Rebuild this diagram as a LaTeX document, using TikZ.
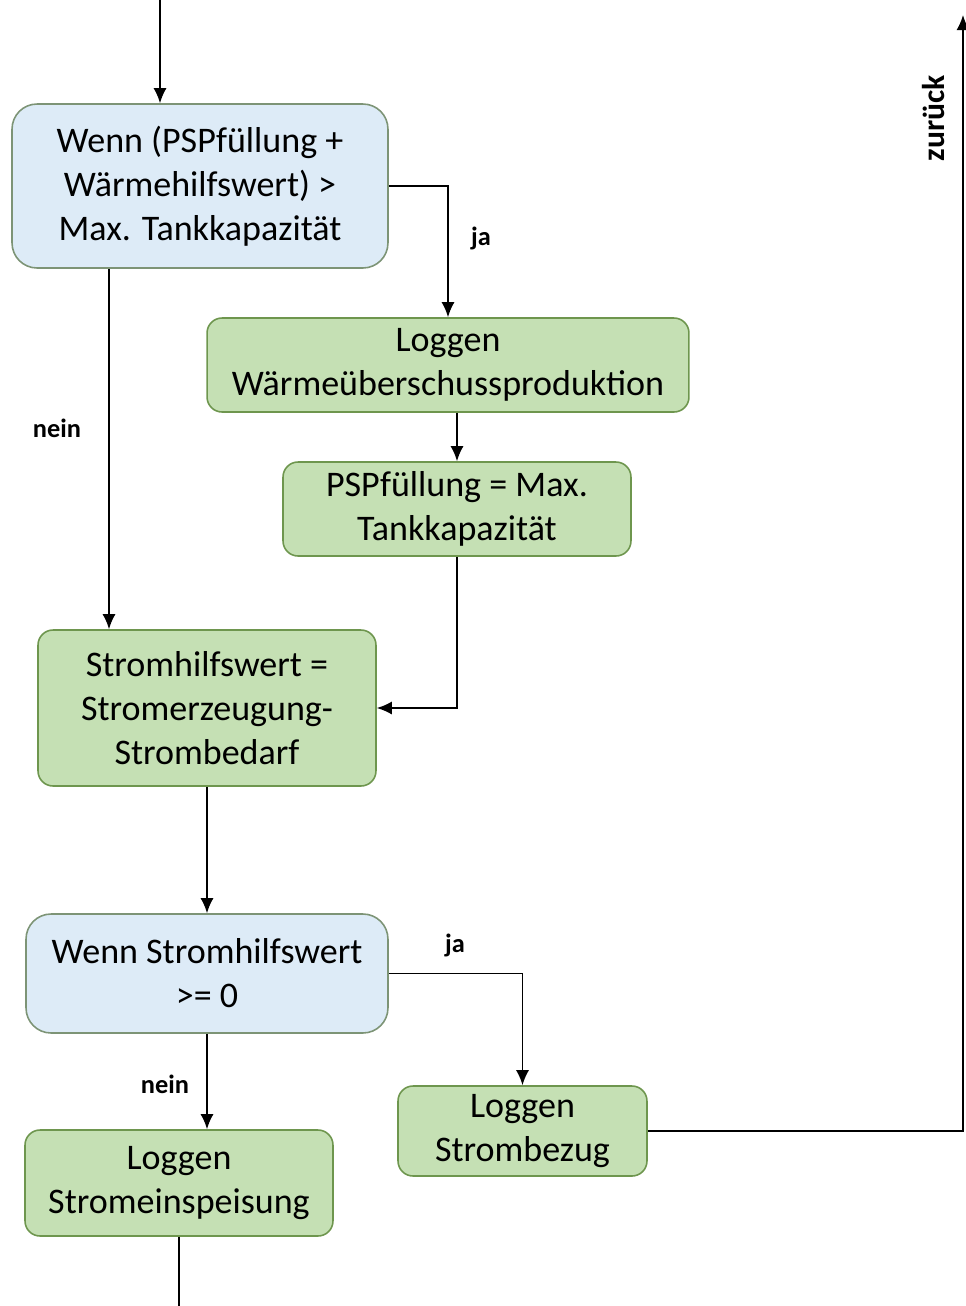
\documentclass[tikz,border=0pt]{standalone}
\usepackage{fontspec}
\setmainfont{Carlito}
\usetikzlibrary{arrows.meta}
\definecolor{fillblau}{RGB}{221,235,247}
\definecolor{randblau}{RGB}{125,148,118}
\definecolor{fillgruen}{RGB}{197,224,180}
\definecolor{randgruen}{RGB}{110,150,78}
\newcommand{\tx}[1]{\textrm{#1}}
\tikzset{
	abfrage/.style={draw=randblau, fill=fillblau, rounded corners=0.5cm, line width=0.9pt,
		align=center, inner sep=0pt, font=\fontsize{20.5}{25}\selectfont},
	aktion/.style={draw=randgruen, fill=fillgruen, rounded corners=0.3cm, line width=0.9pt,
		align=center, inner sep=0pt, font=\fontsize{20.5}{25}\selectfont},
	pfeil/.style={-{Latex[length=3mm,width=2.6mm]}, line width=1pt},
	linie/.style={line width=1pt},
	marke/.style={font=\bfseries\fontsize{15}{18}\selectfont},
}

\begin{document}
\begin{tikzpicture}[x=0.02cm,y=-0.02cm]
\useasboundingbox (0,0) rectangle (966,1306);
% Kaesten
\node[abfrage, minimum width=7.52cm, minimum height=3.28cm] at (200,186) (abfrage1) {\tx{Wenn (PSPfüllung +}\\\tx{Wärmehilfswert) >}\\\tx{Max. Tankkapazität}};
\node[aktion, minimum width=9.64cm, minimum height=1.88cm] at (448,365) (ueberschuss) {\tx{Loggen}\\\tx{Wärmeüberschussproduktion}};
\node[aktion, minimum width=6.96cm, minimum height=1.88cm] at (457,509) (fuellung) {\tx{PSPfüllung = Max.}\\\tx{Tankkapazität}};
\node[aktion, minimum width=6.76cm, minimum height=3.12cm] at (207,708) (strom) {\tx{Stromhilfswert =}\\\tx{Stromerzeugung-}\\\tx{Strombedarf}};
\node[abfrage, minimum width=7.24cm, minimum height=2.38cm] at (207,973.5) (abfrage2) {\tx{Wenn Stromhilfswert}\\\tx{>= 0}};
\node[aktion, minimum width=4.98cm, minimum height=1.8cm] at (522.5,1131) (bezug) {\tx{Loggen}\\\tx{Strombezug}};
\node[aktion, minimum width=6.16cm, minimum height=2.12cm] at (179,1183) (einspeisung) {\tx{Loggen}\\\tx{Stromeinspeisung}};
% Hilfspunkte
\coordinate (start) at (160,0);
\coordinate (k1) at (109,0);
\coordinate (ende) at (179,1306);
\coordinate (zurueck) at (963,15);
% Verbindungen
\draw[pfeil] (start) -- (start |- abfrage1.north);
\draw[pfeil] (abfrage1.east) -| (ueberschuss.north);
\draw[pfeil] (fuellung.north |- ueberschuss.south) -- (fuellung.north);
\draw[pfeil] (fuellung.south) |- (strom.east);
\draw[pfeil] (k1 |- abfrage1.south) -- (k1 |- strom.north);
\draw[pfeil] (strom.south) -- (abfrage2.north);
\draw[pfeil] (abfrage2.east) -| (bezug.north);
\draw[pfeil] (abfrage2.south) -- (abfrage2.south |- einspeisung.north);
\draw[linie] (einspeisung.south) -- (einspeisung.south |- ende);
\draw[pfeil] (bezug.east) -| (zurueck);
% Beschriftungen
\node[marke] at (481,238) (ja1) {ja};
\node[marke] at (57,428) (nein1) {nein};
\node[marke] at (455,945) (ja2) {ja};
\node[marke] at (165,1084) (nein2) {nein};
\node[marke, font=\bfseries\fontsize{18}{20}\selectfont, rotate=90] at (934,118) (zurueck_text) {zurück};
\end{tikzpicture}
\end{document}
